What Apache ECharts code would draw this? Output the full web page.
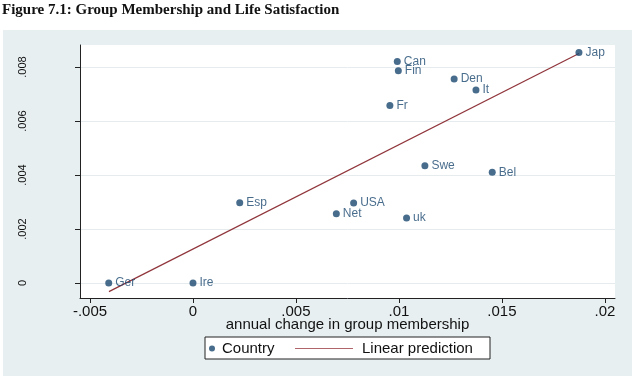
<!DOCTYPE html>
<html>
<head>
<meta charset="utf-8">
<script src="https://cdn.jsdelivr.net/npm/echarts@6/dist/echarts.min.js"></script>
<style>
  html, body { margin: 0; padding: 0; background: #fff; }
  #region { position: absolute; left: 3px; top: 30px; width: 629px; height: 346px; background: #e8eff1; }
  #chart { position: absolute; left: 0; top: 0; width: 632px; height: 377px; }
</style>
</head>
<body>
<div id="region"></div>
<div id="chart"></div>
<script>
// countries, annual change in group membership (x), life satisfaction change (y)
const countries = ['Jap', 'Can', 'Fin', 'Den', 'It', 'Fr', 'Swe', 'Bel', 'Esp', 'USA', 'Net', 'uk', 'Ger', 'Ire']
const membership = [0.01874, 0.00992, 0.00997, 0.01268, 0.01374, 0.00956, 0.01126, 0.01453, 0.00227, 0.00780, 0.00696, 0.01037, -0.00409, 0.0]
const satisfaction = [0.00854, 0.00820, 0.00786, 0.00756, 0.00715, 0.00657, 0.00434, 0.00410, 0.00297, 0.00296, 0.00256, 0.00241, 0.0, 0.0]

// linear prediction end points
const fitX = [-0.00408, 0.01874]
const fitY = [-0.00032, 0.0085]

const xTicks = [-0.005, 0, 0.005, 0.01, 0.015, 0.02]
const xTickLabels = ['-.005', '0', '.005', '.01', '.015', '.02']
const yTicks = [0, 0.002, 0.004, 0.006, 0.008]
const yTickLabels = ['0', '.002', '.004', '.006', '.008']

const navy = '#1a476f'
const maroon = '#90353b'

const scatterData = countries.map((c, i) => [membership[i], satisfaction[i], c])
const fitData = fitX.map((x, i) => [x, fitY[i]])

const myChart = echarts.init(document.getElementById('chart'))
myChart.setOption({
  animation: false,
  title: {
    text: 'Figure 7.1: Group Membership and Life Satisfaction',
    left: 2,
    top: 3,
    padding: 0,
    textStyle: {
      fontFamily: 'Liberation Serif',
      fontWeight: 'bold',
      fontSize: 15,
      color: '#111',
    },
  },
  grid: {
    left: 80,
    right: 17,
    top: 45,
    bottom: 79,
    show: true,
    backgroundColor: '#fff',
    borderWidth: 0,
  },
  xAxis: {
    type: 'value',
    min: -0.005485,
    max: 0.02049,
    name: 'annual change in group membership',
    nameLocation: 'middle',
    nameGap: 19,
    nameMoveOverlap: false,
    nameTextStyle: { fontFamily: 'Liberation Sans', fontSize: 15, color: '#111' },
    axisLine: { onZero: false, lineStyle: { color: '#222', width: 1 } },
    axisTick: { show: true, length: 5, customValues: xTicks, lineStyle: { color: '#222' } },
    axisLabel: {
      customValues: xTicks,
      margin: 6,
      fontFamily: 'Liberation Sans',
      fontSize: 15,
      color: '#111',
      formatter: (v) => xTickLabels[xTicks.findIndex((t) => Math.abs(t - v) < 1e-9)],
    },
    splitLine: { show: false },
  },
  yAxis: {
    type: 'value',
    min: -0.000556,
    max: 0.008815,
    axisLine: { show: true, onZero: false, lineStyle: { color: '#222', width: 1 } },
    axisTick: { show: true, length: 5, customValues: yTicks, lineStyle: { color: '#222' } },
    axisLabel: {
      customValues: yTicks,
      rotate: 90,
      margin: 52,
      fontFamily: 'Liberation Sans',
      fontSize: 11,
      color: '#111',
      formatter: (v) => yTickLabels[yTicks.findIndex((t) => Math.abs(t - v) < 1e-9)],
    },
    splitLine: { show: true, lineStyle: { color: '#e6ecee', width: 1 } },
  },
  legend: [
    {
      data: [{ name: 'Country', icon: 'circle' }],
      left: 209,
      top: 341,
      itemWidth: 10,
      itemHeight: 6,
      padding: 0,
      textStyle: { fontFamily: 'Liberation Sans', fontSize: 15, color: '#111' },
    },
    {
      data: [{ name: 'Linear prediction', icon: 'rect' }],
      left: 295,
      top: 341,
      itemWidth: 58,
      itemHeight: 1,
      padding: 0,
      itemStyle: { color: '#b0656b' },
      textStyle: { fontFamily: 'Liberation Sans', fontSize: 15, color: '#111', padding: [0, 0, 0, 4] },
    },
  ],
  graphic: [
    {
      type: 'rect',
      z: 0,
      shape: { x: 205, y: 337, width: 285, height: 22 },
      style: { fill: '#fff', stroke: '#222', lineWidth: 1 },
    },
  ],
  series: [
    {
      name: 'Linear prediction',
      type: 'line',
      data: fitData,
      symbol: 'none',
      lineStyle: { color: maroon, width: 1.2 },
      itemStyle: { color: maroon },
      z: 2,
    },
    {
      name: 'Country',
      type: 'scatter',
      data: scatterData,
      symbolSize: 7,
      itemStyle: { color: navy },
      label: {
        show: true,
        position: 'right',
        distance: 3,
        formatter: (p) => p.data[2],
        fontFamily: 'Liberation Sans',
        fontSize: 12,
        color: navy,
      },
      z: 3,
    },
  ],
})
</script>
</body>
</html>
